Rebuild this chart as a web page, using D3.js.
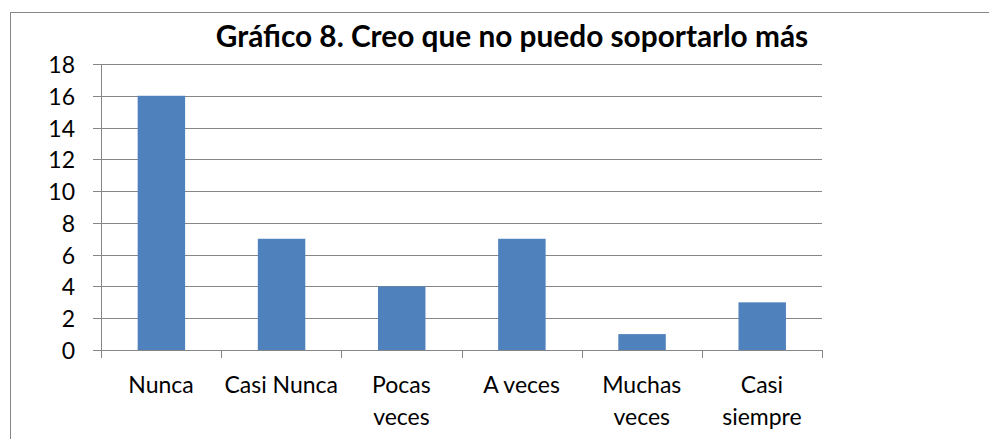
<!DOCTYPE html>
<html>
<head>
<meta charset="utf-8">
<script src="https://cdn.jsdelivr.net/npm/d3@7"></script>
<style>
html,body{margin:0;padding:0;background:#fff;}
svg{display:block;}
text{font-family:"Lato","Open Sans",sans-serif;fill:#000;}
</style>
</head>
<body>
<svg id="chart" width="989" height="439"></svg>
<script>
const title = "Gráfico 8. Creo que no puedo soportarlo más";
const categories = ["Nunca", "Casi Nunca", "Pocas veces", "A veces", "Muchas veces", "Casi siempre"];
const categoryLabelLines = [["Nunca"], ["Casi Nunca"], ["Pocas", "veces"], ["A veces"], ["Muchas", "veces"], ["Casi", "siempre"]];
const values = [16, 7, 4, 7, 1, 3];
const yTicks = [0, 2, 4, 6, 8, 10, 12, 14, 16, 18];

(function () {
const svg = d3.select("#chart");
const gray = "#868686";
const barColor = "#4F81BD";

// outer chart border (cropped at right and bottom)
svg.append("rect").attr("x", 10.5).attr("y", 12.5).attr("width", 1100).attr("height", 600)
  .attr("fill", "none").attr("stroke", gray).attr("stroke-width", 1);

const pL = 101, pR = 822, pT = 64, pB = 350;
const x = d3.scaleBand().domain(categories).range([pL, pR]).padding(0);
const y = d3.scaleLinear().domain([0, 18]).range([pB, pT]);

// gridlines
svg.append("g").selectAll("line").data(yTicks).join("line")
  .attr("x1", pL - 8).attr("x2", pR)
  .attr("y1", d => Math.round(y(d)) + 0.5).attr("y2", d => Math.round(y(d)) + 0.5)
  .attr("stroke", gray).attr("stroke-width", 1);

// y axis line
svg.append("line").attr("x1", pL + 0.5).attr("x2", pL + 0.5)
  .attr("y1", y(18)).attr("y2", y(0) + 0.5).attr("stroke", gray);

// x category tick marks
const bounds = categories.map(c => x(c)).concat([pR]);
svg.append("g").selectAll("line").data(bounds).join("line")
  .attr("x1", d => Math.round(d) + 0.5).attr("x2", d => Math.round(d) + 0.5)
  .attr("y1", y(0)).attr("y2", y(0) + 8)
  .attr("stroke", gray);

// bars
const bw = x.bandwidth();
svg.append("g").selectAll("rect").data(values).join("rect")
  .attr("x", (d, i) => x(categories[i]) + bw * 0.305)
  .attr("width", bw * 0.395)
  .attr("y", d => y(d))
  .attr("height", d => y(0) - y(d))
  .attr("fill", barColor);

// y tick labels
svg.append("g").selectAll("text").data(yTicks).join("text")
  .attr("x", 75).attr("y", d => y(d))
  .attr("text-anchor", "end").attr("dominant-baseline", "central")
  .style("font-size", "23px")
  .text(d => d);

// x labels
const xl = svg.append("g").selectAll("text").data(categoryLabelLines).join("text")
  .attr("text-anchor", "middle")
  .style("font-size", "23px");
xl.each(function(lines, i) {
  const cx = x(categories[i]) + bw / 2;
  d3.select(this).selectAll("tspan").data(lines).join("tspan")
    .attr("x", cx).attr("y", (d, j) => 393 + j * 32).text(d => d);
});

// title
svg.append("text").attr("x", 512).attr("y", 47).attr("text-anchor", "middle")
  .style("font-size", "29.8px").style("font-weight", "bold").text(title);
})();
</script>
</body>
</html>
